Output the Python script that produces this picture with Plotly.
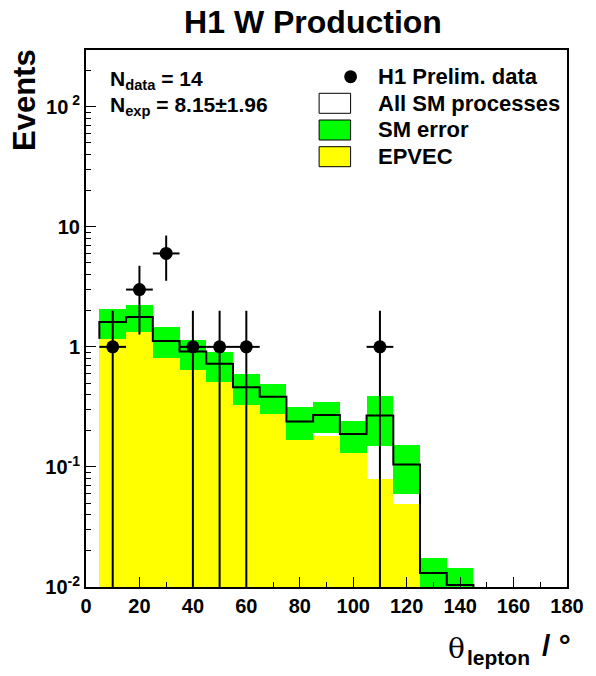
import numpy as np
import plotly.graph_objects as go

# ---------------- data ----------------
bin_edges = [5, 15, 25, 35, 45, 55, 65, 75, 85, 95, 105, 115, 125, 135, 145]
sm_total = [1.61, 1.77, 1.12, 0.914, 0.722, 0.461, 0.385, 0.239, 0.271, 0.188, 0.268, 0.105, 0.0131, 0.0104]
sm_band_hi = [2.07, 2.24, 1.45, 1.14, 0.914, 0.596, 0.494, 0.314, 0.35, 0.243, 0.391, 0.153, 0.0175, 0.0143]
sm_band_lo = [1.15, 1.30, 0.79, 0.64, 0.51, 0.326, 0.276, 0.164, 0.193, 0.131, 0.150, 0.0592, 0.0087, 0.0065]
epvec = [1.17, 1.32, 0.81, 0.643, 0.514, 0.329, 0.277, 0.168, 0.181, 0.1316, 0.0794, 0.0492, 0.0, 0.0]

data_x = [10, 20, 30, 40, 50, 60, 110]
data_n = [1, 3, 6, 1, 1, 1, 1]

y_tick_vals = [0.01, 0.1, 1, 10, 100]
y_tick_text = ["10<sup>-2</sup>", "10<sup>-1</sup>", "1", "10", "10<sup> 2</sup>"]
x_tick_vals = [0, 20, 40, 60, 80, 100, 120, 140, 160, 180]

# ---------------- derived ----------------
edges = np.array(bin_edges, dtype=float)
centers = 0.5 * (edges[:-1] + edges[1:])
widths = edges[1:] - edges[:-1]
hi = np.array(sm_band_hi)
lo = np.array(sm_band_lo)
ep = np.array(epvec)
tot = np.array(sm_total)

n = np.array(data_n, dtype=float)
err = np.sqrt(n)
err_minus = np.where(n - err <= 0, n - 1e-4, err)

GREEN = "#00ff00"
YELLOW = "#ffff00"
FONT = "Liberation Sans"

fig = go.Figure()

# SM error band (green)
fig.add_trace(go.Bar(x=centers, y=hi - lo, base=lo, width=widths,
                     marker=dict(color=GREEN, line=dict(width=0)),
                     showlegend=False, hoverinfo="skip"))
# EPVEC (yellow)
mask = ep > 0
fig.add_trace(go.Bar(x=centers[mask], y=ep[mask] - 1e-4, base=np.full(mask.sum(), 1e-4),
                     width=widths[mask],
                     marker=dict(color=YELLOW, line=dict(width=0)),
                     showlegend=False, hoverinfo="skip"))
# All SM processes outline (step)
step_x = [edges[0]] + list(edges[:-1]) + [edges[-1], edges[-1]]
step_y = [ep[0]] + list(tot) + [tot[-1], 1e-4]
fig.add_trace(go.Scatter(x=step_x, y=step_y, mode="lines",
                         line=dict(color="black", width=2, shape="hv"),
                         showlegend=False, hoverinfo="skip"))
# data
fig.add_trace(go.Scatter(x=data_x, y=data_n, mode="markers",
                         marker=dict(color="black", size=13, symbol="circle"),
                         error_y=dict(type="data", array=err, arrayminus=err_minus,
                                      color="black", thickness=2, width=0),
                         error_x=dict(type="constant", value=5, color="black", thickness=2, width=0),
                         showlegend=False, hoverinfo="skip"))

minor_y = [m * 10.0 ** e for e in range(-2, 3) for m in range(2, 10) if m * 10.0 ** e < 10 ** 2.4725]

# plot-area pixel frame (for placing legend/text in paper coordinates)
L, R, T, B = 86, 575, 50, 587
W, H = 596, 676
def px(x):
    return (x - L) / (R - L)
def py(y):
    return (B - y) / (B - T)

shapes = []
annotations = []

# legend
row_y = [76.7, 103.3, 130.0, 156.7]
labels = ["H1 Prelim. data", "All SM processes", "SM error", "EPVEC"]
fills = [None, "white", GREEN, YELLOW]
for ry, lab, fc in zip(row_y, labels, fills):
    if fc is None:
        shapes.append(dict(type="circle", xref="paper", yref="paper",
                           x0=px(348.5), x1=px(361.5), y0=py(ry + 6.5), y1=py(ry - 6.5),
                           fillcolor="black", line=dict(color="black", width=0)))
    else:
        shapes.append(dict(type="rect", xref="paper", yref="paper",
                           x0=px(323), x1=px(355), y0=py(ry + 10), y1=py(ry - 10),
                           fillcolor=fc, line=dict(color="black", width=1)))
    annotations.append(dict(text="<b>%s</b>" % lab, xref="paper", yref="paper",
                            x=px(381), y=py(ry), xanchor="left", yanchor="middle",
                            showarrow=False, font=dict(family=FONT, size=22, color="black")))

# stats text
annotations.append(dict(text="<b>N<sub>data</sub> = 14</b>", xref="paper", yref="paper",
                        x=px(108), y=py(80), xanchor="left", yanchor="middle",
                        showarrow=False, font=dict(family=FONT, size=21, color="black")))
annotations.append(dict(text="<b>N<sub>exp</sub> = 8.15±1.96</b>", xref="paper", yref="paper",
                        x=px(108), y=py(106), xanchor="left", yanchor="middle",
                        showarrow=False, font=dict(family=FONT, size=21, color="black")))

# y title
annotations.append(dict(text="<b>Events</b>", xref="paper", yref="paper",
                        x=px(23), y=py(100), xanchor="center", yanchor="middle", textangle=-90,
                        showarrow=False, font=dict(family=FONT, size=31, color="black")))
# x title
annotations.append(dict(text="θ", xref="paper", yref="paper",
                        x=px(463), y=py(648), xanchor="center", yanchor="middle",
                        showarrow=False, font=dict(family="DejaVu Serif", size=28, color="black")))
annotations.append(dict(text="<b>lepton</b>", xref="paper", yref="paper",
                        x=px(471), y=py(657), xanchor="left", yanchor="middle",
                        showarrow=False, font=dict(family=FONT, size=21, color="black")))
annotations.append(dict(text="<b>/ °</b>", xref="paper", yref="paper",
                        x=px(548), y=py(645), xanchor="left", yanchor="middle",
                        showarrow=False, font=dict(family=FONT, size=30, color="black")))

fig.update_layout(
    width=W, height=H, autosize=False,
    paper_bgcolor="white", plot_bgcolor="white",
    margin=dict(l=L, r=W - R, t=T, b=H - B),
    barmode="overlay", bargap=0,
    showlegend=False,
    title=dict(text="<b>H1 W Production</b>", x=313 / W, xanchor="center",
               y=1 - 22 / H, yanchor="middle", xref="container", yref="container",
               font=dict(family=FONT, size=32, color="black")),
    shapes=shapes, annotations=annotations,
    xaxis=dict(range=[0, 180], tickmode="array", tickvals=x_tick_vals,
               ticks="inside", ticklen=10, tickwidth=1, tickcolor="black",
               showline=True, linecolor="black", linewidth=2, mirror=True,
               showgrid=False, zeroline=False,
               tickfont=dict(family=FONT, size=20, color="black", weight="bold"),
               minor=dict(ticks="inside", dtick=10, tick0=0, ticklen=5, tickcolor="black", showgrid=False)),
    yaxis=dict(type="log", range=[-2, 2.4725], tickmode="array",
               tickvals=y_tick_vals, ticktext=y_tick_text,
               ticks="inside", ticklen=10, tickwidth=1, tickcolor="black",
               showline=True, linecolor="black", linewidth=2, mirror=True,
               showgrid=False, zeroline=False,
               tickfont=dict(family=FONT, size=20, color="black", weight="bold"),
               minor=dict(ticks="inside", tickmode="array", tickvals=minor_y, ticklen=5,
                          tickcolor="black", showgrid=False)),
)

fig.write_html("out.html", config={"displayModeBar": False, "staticPlot": True},
               post_script="document.body.style.margin='0';document.body.style.overflow='hidden';")
